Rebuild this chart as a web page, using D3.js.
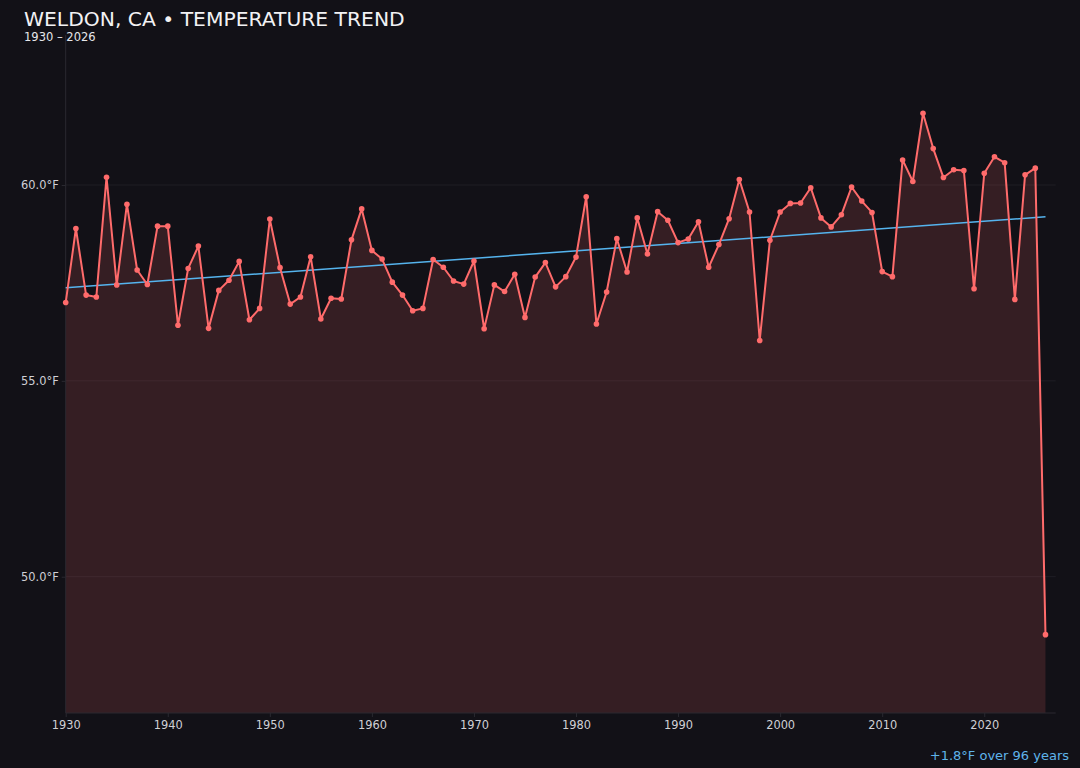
<!DOCTYPE html>
<html>
<head>
<meta charset="utf-8">
<script src="https://cdn.jsdelivr.net/npm/d3@7"></script>
<style>
  html, body { margin: 0; padding: 0; background: #121117; }
  svg { display: block; font-family: "DejaVu Sans", sans-serif; }
  .title { fill: #f2f2f4; font-size: 20.3px; }
  .subtitle { fill: #e6e6ea; font-size: 11.5px; }
  .tick text { fill: #d0d0d6; font-size: 11.4px; font-family: "DejaVu Sans", sans-serif; }
  .note { fill: #5fb4ea; font-size: 13px; }
</style>
</head>
<body>
<svg id="chart" width="1080" height="768"></svg>
<script>
// annual mean temperature, Weldon CA
var years = [
    1930, 1931, 1932, 1933, 1934, 1935, 1936, 1937, 1938, 1939,
    1940, 1941, 1942, 1943, 1944, 1945, 1946, 1947, 1948, 1949,
    1950, 1951, 1952, 1953, 1954, 1955, 1956, 1957, 1958, 1959,
    1960, 1961, 1962, 1963, 1964, 1965, 1966, 1967, 1968, 1969,
    1970, 1971, 1972, 1973, 1974, 1975, 1976, 1977, 1978, 1979,
    1980, 1981, 1982, 1983, 1984, 1985, 1986, 1987, 1988, 1989,
    1990, 1991, 1992, 1993, 1994, 1995, 1996, 1997, 1998, 1999,
    2000, 2001, 2002, 2003, 2004, 2005, 2006, 2007, 2008, 2009,
    2010, 2011, 2012, 2013, 2014, 2015, 2016, 2017, 2018, 2019,
    2020, 2021, 2022, 2023, 2024, 2025, 2026
];

var temps = [
    57.00, 58.89, 57.19, 57.14, 60.20, 57.45, 59.51, 57.83, 57.46, 58.95,
    58.95, 56.42, 57.87, 58.44, 56.34, 57.31, 57.57, 58.05, 56.56, 56.85,
    59.13, 57.89, 56.96, 57.14, 58.17, 56.58, 57.11, 57.09, 58.60, 59.39,
    58.33, 58.11, 57.52, 57.19, 56.79, 56.85, 58.10, 57.90, 57.55, 57.47,
    58.06, 56.33, 57.45, 57.28, 57.72, 56.62, 57.65, 58.02, 57.40, 57.66,
    58.16, 59.70, 56.45, 57.27, 58.63, 57.78, 59.16, 58.24, 59.32, 59.10,
    58.53, 58.62, 59.06, 57.90, 58.48, 59.14, 60.14, 59.31, 56.03, 58.59,
    59.31, 59.53, 59.54, 59.93, 59.16, 58.93, 59.24, 59.95, 59.59, 59.30,
    57.79, 57.66, 60.64, 60.09, 61.83, 60.93, 60.19, 60.39, 60.37, 57.35,
    60.30, 60.72, 60.57, 57.08, 60.26, 60.43, 48.52
];

var yTicks = [50, 55, 60];
var xTicks = [1930, 1940, 1950, 1960, 1970, 1980, 1990, 2000, 2010, 2020];

var data = years.map(function(y, i)
{
    return { year: y, temp: temps[i] };
});

var svg = d3.select("#chart");

var plot = { left: 65.7, right: 1055.7, top: 35, bottom: 713 };

var x = d3.scaleLinear()
    .domain([years[0], years[years.length - 1] + 1])
    .range([plot.left, plot.right]);

var y = d3.scaleLinear()
    .domain([d3.min(temps) - 2, d3.max(temps) + 2])
    .range([plot.bottom, plot.top]);

// gridlines
svg.append("g")
    .selectAll("line")
    .data(yTicks)
    .enter().append("line")
    .attr("x1", plot.left)
    .attr("x2", plot.right)
    .attr("y1", function(d) { return y(d); })
    .attr("y2", function(d) { return y(d); })
    .attr("stroke", "#1f1e25")
    .attr("stroke-width", 1);

// least squares trend
var mx = d3.mean(years), my = d3.mean(temps);
var sxy = d3.sum(data, function(d) { return (d.year - mx) * (d.temp - my); });
var sxx = d3.sum(data, function(d) { return (d.year - mx) * (d.year - mx); });
var slope = sxy / sxx;
var intercept = my - slope * mx;
var first = years[0], last = years[years.length - 1];

var area = d3.area()
    .x(function(d) { return x(d.year); })
    .y0(plot.bottom)
    .y1(function(d) { return y(d.temp); });

svg.append("path")
    .datum(data)
    .attr("d", area)
    .attr("fill", "#ff6b6b")
    .attr("fill-opacity", 0.15);

// axes
var yAxis = svg.append("g")
    .attr("transform", "translate(" + plot.left + ",0)")
    .call(d3.axisLeft(y)
        .tickValues(yTicks)
        .tickSize(4)
        .tickPadding(3)
        .tickFormat(function(d) { return d3.format(".1f")(d) + "°F"; }));

var xAxis = svg.append("g")
    .attr("transform", "translate(0," + plot.bottom + ")")
    .call(d3.axisBottom(x)
        .tickValues(xTicks)
        .tickSize(4)
        .tickPadding(4)
        .tickFormat(d3.format("d")));

svg.selectAll(".domain").attr("stroke", "#2a2930");
svg.selectAll(".tick line").attr("stroke", "#2a2930");
svg.selectAll(".tick text").attr("fill", "#d0d0d6");
yAxis.select(".domain").attr("d", "M0," + plot.top + "V" + plot.bottom);
xAxis.select(".domain").attr("d", "M" + plot.left + ",0H" + plot.right);

svg.append("line")
    .attr("x1", x(first))
    .attr("x2", x(last))
    .attr("y1", y(intercept + slope * first))
    .attr("y2", y(intercept + slope * last))
    .attr("stroke", "#55b4ee")
    .attr("stroke-width", 1.5);

var line = d3.line()
    .x(function(d) { return x(d.year); })
    .y(function(d) { return y(d.temp); });

svg.append("path")
    .datum(data)
    .attr("d", line)
    .attr("fill", "none")
    .attr("stroke", "#ff6b6b")
    .attr("stroke-width", 2)
    .attr("stroke-linejoin", "round");

svg.append("g")
    .selectAll("circle")
    .data(data)
    .enter().append("circle")
    .attr("cx", function(d) { return x(d.year); })
    .attr("cy", function(d) { return y(d.temp); })
    .attr("r", 2.8)
    .attr("fill", "#ff6b6b");

// titles
svg.append("text")
    .attr("class", "title")
    .attr("x", 24)
    .attr("y", 25.5)
    .text("WELDON, CA • TEMPERATURE TREND");

svg.append("text")
    .attr("class", "subtitle")
    .attr("x", 24)
    .attr("y", 41)
    .text(first + " – " + last);

var change = slope * (last - first);
svg.append("text")
    .attr("class", "note")
    .attr("x", 1069)
    .attr("y", 760)
    .attr("text-anchor", "end")
    .text((change >= 0 ? "+" : "") + change.toFixed(1) + "°F over " + (last - first) + " years");
</script>
</body>
</html>
